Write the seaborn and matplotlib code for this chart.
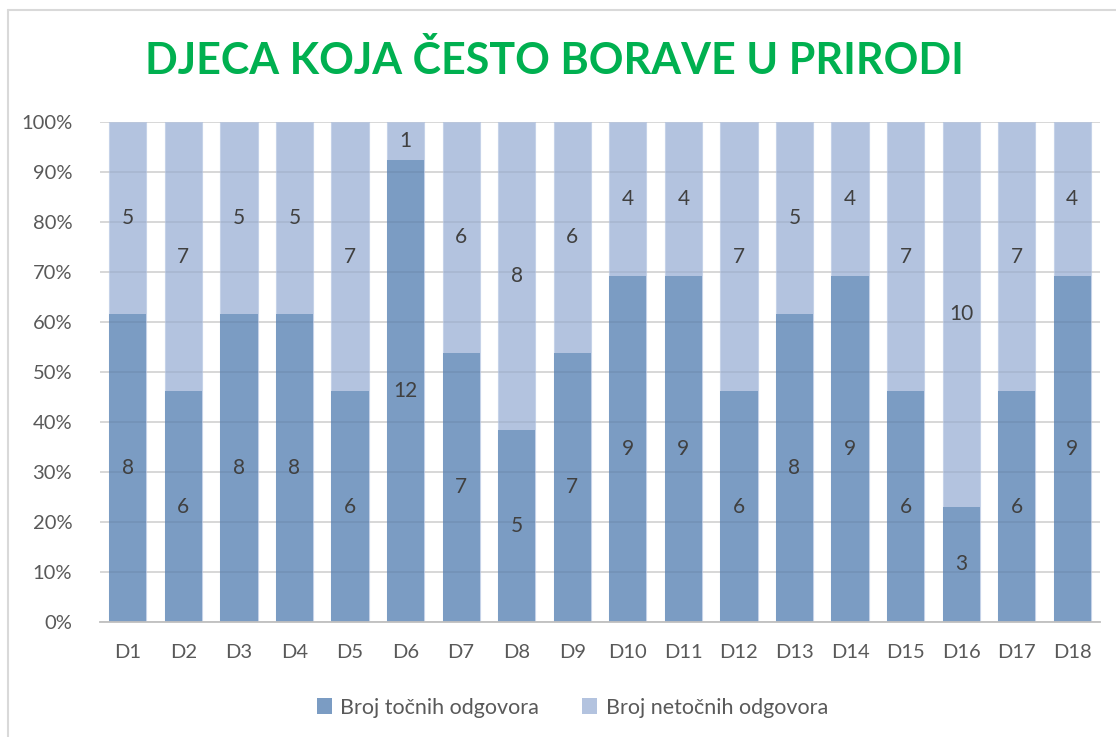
import numpy as np
import pandas as pd
import matplotlib
matplotlib.use("Agg")
import matplotlib.pyplot as plt
import seaborn as sns
from matplotlib.lines import Line2D
from matplotlib.patches import Patch

categories = ["D1", "D2", "D3", "D4", "D5", "D6", "D7", "D8", "D9", "D10",
              "D11", "D12", "D13", "D14", "D15", "D16", "D17", "D18"]
correct = [8, 6, 8, 8, 6, 12, 7, 5, 7, 9, 9, 6, 8, 9, 6, 3, 6, 9]
incorrect = [5, 7, 5, 5, 7, 1, 6, 8, 6, 4, 4, 7, 5, 4, 7, 10, 7, 4]
series_names = ["Broj točnih odgovora", "Broj netočnih odgovora"]
title = "DJECA KOJA ČESTO BORAVE U PRIRODI"

sns.set_theme(style="white")
plt.rcParams["font.family"] = ["Lato", "DejaVu Sans"]

c_dark = "#7b9cc3"
c_light = "#b3c3df"
txt = "#595959"

tot = np.array(correct) + np.array(incorrect)
pct_c = np.array(correct) / tot * 100
df = pd.DataFrame({"cat": categories, "full": 100.0, "pc": pct_c})

fig = plt.figure(figsize=(11.16, 7.37), dpi=100)
ax = fig.add_axes([0.0896, 0.156, 0.8961, 0.6785])

sns.barplot(data=df, x="cat", y="full", color=c_light, saturation=1, width=0.67,
            ax=ax, zorder=2, edgecolor="#c5d2e8", linewidth=0.8)
sns.barplot(data=df, x="cat", y="pc", color=c_dark, saturation=1, width=0.67,
            ax=ax, zorder=3, linewidth=0)

for i in range(len(categories)):
    ax.text(i, pct_c[i] / 2, str(correct[i]), ha="center", va="center",
            fontsize=15, color="#404040", zorder=6)
    ax.text(i, pct_c[i] + (100 - pct_c[i]) / 2, str(incorrect[i]), ha="center",
            va="center", fontsize=15, color="#404040", zorder=6)

ax.set_xlim(-0.5, len(categories) - 0.5)
ax.set_ylim(0, 100)
yt = np.arange(0, 101, 10)
ax.set_yticks(yt)
ax.set_yticklabels([f"{v}%" for v in yt])
ax.yaxis.grid(True, color="#e3e3e3", linewidth=1.3, zorder=0)
ax.set_axisbelow(True)
# faint gridlines visible through the semi-transparent bars
for v in yt[1:]:
    ax.axhline(v, color="black", alpha=0.06, linewidth=1.3, zorder=4)
for s in ["top", "right", "left"]:
    ax.spines[s].set_visible(False)
ax.spines["bottom"].set_color("#bfbfbf")
ax.spines["bottom"].set_linewidth(1.3)
ax.spines["bottom"].set_zorder(5)
ax.tick_params(axis="x", length=0, labelsize=14.5, colors=txt, pad=16)
ax.tick_params(axis="y", length=0, labelsize=14.5, colors=txt, pad=20)
ax.set_xlabel("")
ax.set_ylabel("")

fig.text(0.497, 0.918, title, ha="center", va="center", fontsize=31,
         fontweight="bold", color="#00b050")

handles = [Patch(facecolor=c_dark, edgecolor="none"),
           Patch(facecolor=c_light, edgecolor="none")]
fig.legend(handles, series_names, loc="center", bbox_to_anchor=(0.513, 0.040),
           ncol=2, frameon=False, fontsize=15.5, labelcolor=txt,
           handlelength=0.7, handleheight=0.7, handletextpad=0.4,
           columnspacing=2.0)

fig.add_artist(Line2D([0.0072, 1.0], [0.9864, 0.9864], color="#d9d9d9", lw=1.5,
                      transform=fig.transFigure))
fig.add_artist(Line2D([0.0072, 0.0072], [0.0, 0.9864], color="#d9d9d9", lw=1.5,
                      transform=fig.transFigure))

fig.savefig("out.png", dpi=100, facecolor="white")
